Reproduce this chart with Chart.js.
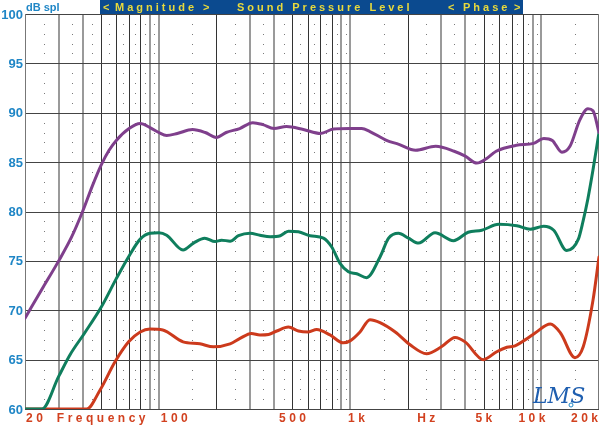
<!DOCTYPE html>
<html><head><meta charset="utf-8">
<script src="https://cdn.jsdelivr.net/npm/chart.js@4"></script>
<style>html,body{margin:0;padding:0;background:#fff;overflow:hidden}canvas{display:block}</style>
</head><body>
<canvas id="c" width="600" height="425"></canvas>
<script>
// ---- data ----
const purpleFreq = [20,25,30,35,40,45,50,55,60,70,80,90,100,110,125,150,175,200,225,265,310,350,400,465,570,700,820,1000,1150,1270,1550,1800,2200,2800,3500,4000,4600,5200,5800,7400,9100,10300,11400,12800,14100,15900,17500,18600,20000];
const purpleDb   = [69.2,72.4,75.0,77.4,80.0,82.6,84.7,86.2,87.2,88.4,88.9,88.5,88.0,87.7,87.9,88.3,88.0,87.5,88.0,88.4,89.0,88.8,88.4,88.6,88.3,87.9,88.35,88.4,88.4,88.1,87.2,86.8,86.2,86.6,86.1,85.6,84.9,85.4,86.1,86.7,86.9,87.4,87.2,86.0,86.6,89.3,90.4,90.2,88.0];

const greenFreq = [20,24.5,30,34.4,41,50,60,70,80,90,100,110,134,152,174,197,213,236,261,300,338,382,432,476,537,618,726,802,886,980,1084,1220,1434,1590,1790,2020,2280,2780,3470,4140,4880,5980,7440,8740,10280,11600,13560,15600,16500,17500,18600,20000];
const greenDb   = [60,60,63.3,65.5,67.7,70.3,73.2,75.5,77.2,77.8,77.85,77.6,76.1,76.8,77.3,76.95,77.1,77.0,77.55,77.8,77.6,77.45,77.55,78.0,77.95,77.55,77.3,76.4,74.75,73.9,73.7,73.3,75.4,77.3,77.8,77.3,76.8,77.85,77.05,77.9,78.1,78.7,78.55,78.2,78.5,78.1,76.05,77.2,79.0,81.3,84.2,88.0];

const redFreq = [20,42,49.3,59.2,69.6,80,90,105,134,164,193,236,266,305,338,375,414,476,537,606,669,786,920,1000,1127,1270,1434,1722,2060,2510,3000,3540,3990,4970,5840,6600,7280,8220,9270,11140,12580,14980,16540,18600,20000];
const redDb   = [60,60,61.9,64.8,66.8,67.8,68.1,68.0,66.8,66.6,66.3,66.6,67.15,67.65,67.5,67.55,67.9,68.3,67.9,67.8,68.05,67.5,66.7,66.9,67.8,69.05,68.75,67.8,66.5,65.6,66.3,67.25,66.8,65.0,65.8,66.25,66.4,67.0,67.7,68.6,67.7,65.2,66.3,71.0,75.4];

const yTickValues = [60,65,70,75,80,85,90,95,100];
const xTickValues = [20,50,100,500,1000,2500,5000,10000,20000];
const xTickLabels = ["20","Frequency","100","500","1k","Hz","5k","10k","20k"];
const gridFreqs = [30,40,50,60,70,80,90,100,200,300,400,500,600,700,800,900,1000,2000,3000,4000,5000,6000,7000,8000,9000,10000];
const dotFreqs = [25,35,45,55,65,75,85,95,150,250,350,450,550,650,750,850,950,1500,2500,3500,4500,5500,6500,7500,8500,9500,15000];

const toPts = (f, d) => f.map((v, i) => ({x: v, y: d[i]}));

const deco = {
  id: 'deco',
  beforeDatasetsDraw(chart) {
    const {ctx, chartArea: a, scales: {x, y}} = chart;
    ctx.save();
    ctx.fillStyle = '#7a7a7a';
    for (const f of dotFreqs) {
      const px = Math.round(x.getPixelForValue(f));
      for (let d = 61; d < 100; d++) {
        if (d % 5 === 0) continue;
        ctx.fillRect(px, Math.round(y.getPixelForValue(d)), 1, 1);
      }
    }
    for (const f of gridFreqs) {
      const m = Math.round(f / Math.pow(10, Math.floor(Math.log10(f) + 1e-9)));
      const px = x.getPixelForValue(f);
      const light = (m === 1 || m === 3 || m === 4 || m === 9);
      ctx.strokeStyle = light ? '#9a9a9a' : '#333';
      ctx.lineWidth = light ? 2 : 1;
      const xx = light ? Math.round(px) : Math.round(px) + 0.5;
      ctx.beginPath(); ctx.moveTo(xx, a.top); ctx.lineTo(xx, a.bottom); ctx.stroke();
    }
    ctx.strokeStyle = '#444';
    ctx.lineWidth = 1;
    for (const v of yTickValues) {
      const py = Math.round(y.getPixelForValue(v)) + 0.5;
      ctx.beginPath(); ctx.moveTo(a.left, py); ctx.lineTo(a.right, py); ctx.stroke();
    }
    ctx.strokeStyle = '#777';
    ctx.beginPath(); ctx.moveTo(Math.round(a.left)+0.5, a.top); ctx.lineTo(Math.round(a.left)+0.5, a.bottom); ctx.stroke();
    ctx.beginPath(); ctx.moveTo(Math.round(a.right)-0.5, a.top); ctx.lineTo(Math.round(a.right)-0.5, a.bottom); ctx.stroke();
    ctx.restore();
  },
  afterDraw(chart) {
    const {ctx, chartArea: a, scales: {x, y}} = chart;
    ctx.save();
    ctx.fillStyle = '#1f86c6';
    ctx.font = 'bold 13px "Liberation Sans", Arial, sans-serif';
    ctx.textAlign = 'right';
    ctx.textBaseline = 'middle';
    for (const v of yTickValues) {
      ctx.fillText(String(v), a.left - 2, y.getPixelForValue(v) + 1);
    }
    ctx.textAlign = 'left';
    ctx.textBaseline = 'alphabetic';
    ctx.font = 'bold 11px "Liberation Sans", Arial, sans-serif';
    ctx.fillText('dB spl', 26, 11);

    ctx.fillStyle = '#d2411f';
    ctx.font = 'bold 12px "Liberation Sans", Arial, sans-serif';
    ctx.letterSpacing = '3.5px';
    const by = 422;
    xTickLabels.forEach((lab, i) => {
      const px = x.getPixelForValue(xTickValues[i]);
      const w = ctx.measureText(lab).width - 3.5;
      let lx;
      if (i === 0) lx = px + 1;
      else if (i === xTickLabels.length - 1) lx = px - w - 1;
      else if (lab === '100') lx = px + 2;
      else if (lab === '1k') lx = px - 2;
      else if (lab === '10k') lx = px + 4 - w;
      else lx = px - w / 2;
      ctx.fillText(lab, lx, by);
    });

    ctx.letterSpacing = '0px';
    ctx.fillStyle = '#0b4a8f';
    ctx.fillRect(100, 0, 423, 14);
    ctx.fillStyle = '#e8d93c';
    ctx.font = 'bold 11px "Liberation Sans", Arial, sans-serif';
    ctx.letterSpacing = '3px';
    const bb = 11;
    ctx.fillText('<', 103, bb);
    ctx.fillText('Magnitude', 115, bb);
    ctx.fillText('>', 203, bb);
    ctx.fillText('Sound Pressure Level', 237, bb);
    ctx.fillText('<', 448, bb);
    ctx.fillText('Phase', 463, bb);
    ctx.fillText('>', 514, bb);

    ctx.letterSpacing = '0px';
    ctx.fillStyle = '#1f5fb0';
    ctx.font = 'italic 22px "DejaVu Serif", serif';
    ctx.fillText('LMS', 533, 403);
    ctx.beginPath();
    ctx.arc(571, 405, 2, 0, Math.PI * 2);
    ctx.strokeStyle = '#1f86c6';
    ctx.lineWidth = 1;
    ctx.stroke();
    ctx.restore();
  }
};

new Chart(document.getElementById('c'), {
  type: 'line',
  data: {
    datasets: [
      {label: 'purple', data: toPts(purpleFreq, purpleDb), borderColor: '#7f3f8c'},
      {label: 'green', data: toPts(greenFreq, greenDb), borderColor: '#0f7e5d'},
      {label: 'red', data: toPts(redFreq, redDb), borderColor: '#cc3a1c'}
    ]
  },
  options: {
    responsive: false,
    animation: false,
    devicePixelRatio: 1,
    layout: {padding: {left: 25, right: 1, top: 14, bottom: 16}},
    plugins: {legend: {display: false}, tooltip: {enabled: false}},
    elements: {
      point: {radius: 0, hoverRadius: 0},
      line: {borderWidth: 3, cubicInterpolationMode: 'monotone', borderCapStyle: 'round', borderJoinStyle: 'round'}
    },
    scales: {
      x: {type: 'logarithmic', min: 20, max: 20000, display: false},
      y: {type: 'linear', min: 60, max: 100, display: false}
    }
  },
  plugins: [deco]
});
</script>
</body></html>
